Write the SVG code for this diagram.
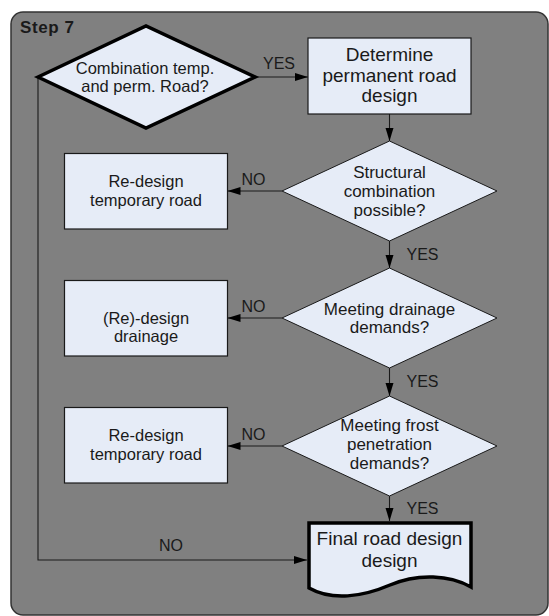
<svg xmlns="http://www.w3.org/2000/svg" width="549" height="616" viewBox="0 0 549 616">
<style>
text{font-family:"Liberation Sans",Arial,sans-serif;fill:#1a1a1a;text-anchor:middle}
.frame{fill:#808080;stroke:#333;stroke-width:1.5}
.box{fill:#e6ecf7;stroke:#1a1a1a;stroke-width:1.2}
.dia{fill:#e6ecf7;stroke:#1a1a1a;stroke-width:1}
.thick{fill:#e6ecf7;stroke:#000;stroke-width:3.5;stroke-linejoin:miter}
.conn{fill:none;stroke:#1a1a1a;stroke-width:1.1}
.lbl{font-size:16px;text-anchor:start}
.t16{font-size:16.5px}
.t17{font-size:17px}
.t19{font-size:19px}
</style>
<defs>
<marker id="ah" markerUnits="userSpaceOnUse" markerWidth="14" markerHeight="10" refX="13" refY="4" orient="auto">
<path d="M0,0 L13,4 L0,8 Z" fill="#000"/>
</marker>
</defs>
<rect class="frame" x="11" y="12" width="537" height="603" rx="12" ry="12"/>
<text x="20" y="33" style="font-size:17px;font-weight:bold;text-anchor:start;letter-spacing:0.6px">Step 7</text>

<g id="connectors">
<line class="conn" x1="255" y1="77" x2="308" y2="77" marker-end="url(#ah)"/>
<text class="lbl" x="263" y="69">YES</text>
<line class="conn" x1="389.5" y1="114" x2="389.5" y2="141" marker-end="url(#ah)"/>
<line class="conn" x1="282" y1="191" x2="227.5" y2="191" marker-end="url(#ah)"/>
<text class="lbl" x="241.5" y="185">NO</text>
<line class="conn" x1="389.5" y1="241" x2="389.5" y2="268" marker-end="url(#ah)"/>
<text class="lbl" x="406.5" y="260">YES</text>
<line class="conn" x1="282" y1="318" x2="227.5" y2="318" marker-end="url(#ah)"/>
<text class="lbl" x="241.5" y="312">NO</text>
<line class="conn" x1="389.5" y1="368" x2="389.5" y2="396" marker-end="url(#ah)"/>
<text class="lbl" x="406.5" y="387">YES</text>
<line class="conn" x1="282" y1="446" x2="227.5" y2="446" marker-end="url(#ah)"/>
<text class="lbl" x="241.5" y="440">NO</text>
<line class="conn" x1="389.5" y1="496" x2="389.5" y2="521" marker-end="url(#ah)"/>
<text class="lbl" x="406.5" y="513.5">YES</text>
<polyline class="conn" points="38,77 38,560 307,560" marker-end="url(#ah)"/>
<text class="lbl" x="159" y="551">NO</text>
</g>

<g id="decision-combination">
<polygon class="thick" points="38,77 146,26 255,77 146,128"/>
<text class="t16" x="145" y="74">Combination temp.</text>
<text class="t16" x="145" y="91.5">and perm. Road?</text>
</g>

<g id="determine-permanent">
<rect class="box" x="308" y="38" width="163" height="76"/>
<text class="t19" x="389.5" y="60.5">Determine</text>
<text class="t19" x="389.5" y="81.5">permanent road</text>
<text class="t19" x="389.5" y="102">design</text>
</g>

<g id="decision-structural">
<polygon class="dia" points="282,191 389.5,141 497,191 389.5,241"/>
<text class="t17" x="389.5" y="177.5">Structural</text>
<text class="t17" x="389.5" y="196.5">combination</text>
<text class="t17" x="389.5" y="215.5">possible?</text>
</g>

<g id="redesign-temporary-1">
<rect class="box" x="64.5" y="153.5" width="163" height="75.5"/>
<text class="t16" x="146" y="186.5">Re-design</text>
<text class="t16" x="146" y="206">temporary road</text>
</g>

<g id="decision-drainage">
<polygon class="dia" points="282,318 389.5,268 497,318 389.5,368"/>
<text class="t17" x="389.5" y="314.5">Meeting drainage</text>
<text class="t17" x="389.5" y="333">demands?</text>
</g>

<g id="redesign-drainage">
<rect class="box" x="64.5" y="280.5" width="163" height="75.5"/>
<text class="t16" x="146" y="324">(Re)-design</text>
<text class="t16" x="146" y="342">drainage</text>
</g>

<g id="decision-frost">
<polygon class="dia" points="282,446 389.5,396 497,446 389.5,496"/>
<text class="t17" x="389.5" y="431">Meeting frost</text>
<text class="t17" x="389.5" y="450">penetration</text>
<text class="t17" x="389.5" y="469">demands?</text>
</g>

<g id="redesign-temporary-2">
<rect class="box" x="64.5" y="407.5" width="163" height="75.5"/>
<text class="t16" x="146" y="441">Re-design</text>
<text class="t16" x="146" y="460">temporary road</text>
</g>

<g id="final-design">
<path class="thick" d="M309,523 H471 V587 C450,575 418,573 390,585 C362,597 332,601 309,588 Z"/>
<text class="t19" x="389.5" y="545">Final road design</text>
<text class="t19" x="389.5" y="567">design</text>
</g>
</svg>
